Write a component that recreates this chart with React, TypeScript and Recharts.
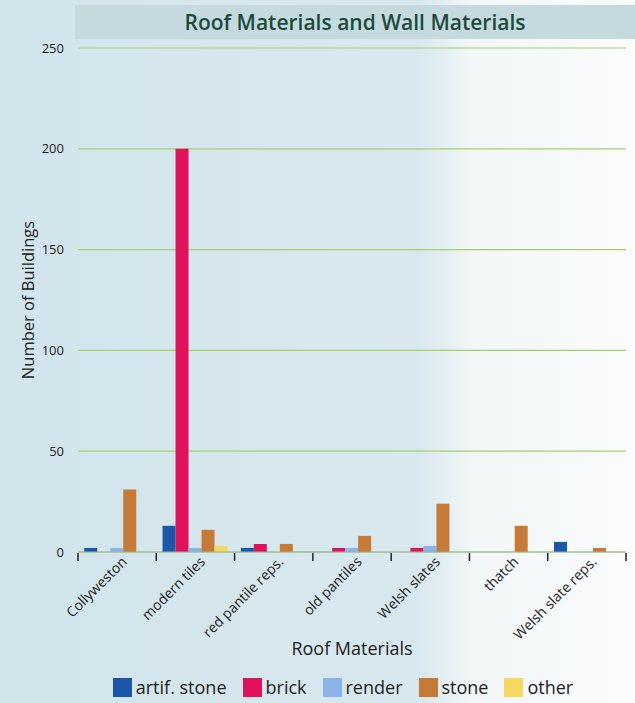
import { BarChart, Bar, XAxis, YAxis, CartesianGrid, Legend } from "recharts";

const roofs = ["Collyweston", "modern tiles", "red pantile reps.", "old pantiles", "Welsh slates", "thatch", "Welsh slate reps."];
const artifStone = [2, 13, 2, 0, 0, 0, 5];
const brick = [0, 200, 4, 2, 2, 0, 0];
const render = [2, 2, 0, 2, 3, 0, 0];
const stone = [31, 11, 4, 8, 24, 13, 2];
const other = [0, 3, 0, 0, 0, 0, 0];
const yTicks = [0, 50, 100, 150, 200, 250];

const series = [
  { key: "artif. stone", values: artifStone, color: "#1b57a9" },
  { key: "brick", values: brick, color: "#e0125c" },
  { key: "render", values: render, color: "#8cb2ea" },
  { key: "stone", values: stone, color: "#c67a37" },
  { key: "other", values: other, color: "#f5d862" },
];

const data = roofs.map((roof, i) => {
  const row: Record<string, string | number> = { roof };
  series.forEach((s) => (row[s.key] = s.values[i]));
  return row;
});

const font = "'Open Sans', 'Noto Sans', sans-serif";
const band = (635 - 78 - 9) / roofs.length;

// label plus the little boundary ticks between categories
function RoofTick({ x, y, payload, index }: any) {
  return (
    <g>
      <line x1={x - band / 2} x2={x - band / 2} y1={y + 1} y2={y + 9} stroke="#222" strokeWidth={1.5} />
      {index === roofs.length - 1 && <line x1={x + band / 2} x2={x + band / 2} y1={y + 1} y2={y + 9} stroke="#222" strokeWidth={1.5} />}
      <text x={x + 8} y={y + 8} transform={`rotate(-45, ${x + 8}, ${y + 8})`} textAnchor="end" dominantBaseline="middle" fontSize={14} fill="#222" fontFamily={font}>
        {payload.value}
      </text>
    </g>
  );
}

function LegendBox() {
  return (
    <div style={{ display: "flex", justifyContent: "center", gap: 16, fontFamily: font, fontSize: 18, color: "#222", paddingLeft: 60 }}>
      {series.map((s) => (
        <span key={s.key} style={{ display: "flex", alignItems: "center", gap: 4 }}>
          <span style={{ width: 19, height: 19, background: s.color, display: "inline-block" }} />
          {s.key}
        </span>
      ))}
    </div>
  );
}

export default function App() {
  return (
    <div
      style={{
        position: "absolute",
        left: 0,
        top: 0,
        width: 635,
        height: 703,
        background: "linear-gradient(to right, #d2e5ec 0%, #d8e8ee 66%, #f1f6f7 74%, #fbfcfc 100%)",
        fontFamily: font,
      }}
    >
      <div
        style={{
          position: "absolute",
          left: 75,
          top: 5,
          width: 560,
          height: 34,
          background: "#c4dadf",
          color: "#1d4a3b",
          fontSize: 21,
          fontWeight: 600,
          textAlign: "center",
          lineHeight: "34px",
        }}
      >
        Roof Materials and Wall Materials
      </div>
      <BarChart
        width={635}
        height={703}
        data={data}
        margin={{ top: 48, right: 9, bottom: 0, left: 0 }}
        barCategoryGap="8%"
        barGap={0}
        style={{ position: "absolute", left: 0, top: 0 }}
      >
        <CartesianGrid vertical={false} stroke="#a6cf6c" strokeWidth={1.2} />
        <XAxis
          dataKey="roof"
          interval={0}
          height={127}
          tick={<RoofTick />}
          tickLine={false}
          tickSize={0}
          tickMargin={0}
          axisLine={{ stroke: "#9cb79a" }}
          label={{ value: "Roof Materials", position: "insideBottom", offset: 24, fontSize: 18, fill: "#222", fontFamily: font }}
        />
        <YAxis
          width={78}
          domain={[0, 250]}
          ticks={yTicks}
          tickLine={false}
          axisLine={false}
          tickMargin={8}
          tick={{ fontSize: 13, fill: "#222", fontFamily: font }}
          label={{ value: "Number of Buildings", angle: -90, position: "insideLeft", offset: 28, fontSize: 16.5, fill: "#222", fontFamily: font, style: { textAnchor: "middle" } }}
        />
        <Legend verticalAlign="bottom" wrapperStyle={{ bottom: 4 }} content={<LegendBox />} />
        {series.map((s) => (
          <Bar key={s.key} dataKey={s.key} fill={s.color} isAnimationActive={false} />
        ))}
      </BarChart>
    </div>
  );
}
